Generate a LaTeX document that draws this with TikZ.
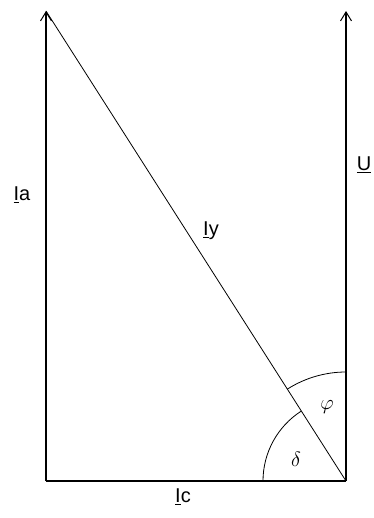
\documentclass[tikz,border=0pt]{standalone}
\usepackage{fontspec}
\setmainfont{Liberation Sans}
\usetikzlibrary{arrows.meta,positioning}

\begin{document}
\begin{tikzpicture}[x=1pt,y=-1pt,
  every node/.style={font=\fontsize{20}{24}\selectfont,inner sep=0pt},
  angle label/.style={font=\fontsize{22}{26}\selectfont},
  side/.style={draw,line width=1.4pt},
  thin line/.style={draw,line width=0.8pt},
  vec/.style={side,-{Straight Barb[length=9pt,width=11pt,line width=1pt]}}]

\useasboundingbox (0,0) rectangle (373,518);

\coordinate (O) at (346,481);
\coordinate (A) at (46,481);
\coordinate (Atop) at (46,11);
\coordinate (Utop) at (346,11);

\draw[vec] (A) -- (Atop);
\draw[vec] (O) -- (Utop);
\draw[side] (A) -- (O);
\draw[thin line] (O) -- (Atop);

\draw[thin line] (O) ++(270:109) arc[start angle=270,end angle=237.4,radius=109];
\draw[thin line] (O) ++(180:83) arc[start angle=180,end angle=237.4,radius=83];

\node (Ia) at (22,195) {\underline{I}a};
\node (Iy) at (211,231) {\underline{I}y};
\node (U) at (364,165) {\underline{U}};
\node (Ic) at (183,497) {\underline{I}c};
\node[angle label] (phi) at (327,407) {$\varphi$};
\node[angle label] (delta) at (296,459) {$\delta$};
\end{tikzpicture}
\end{document}
